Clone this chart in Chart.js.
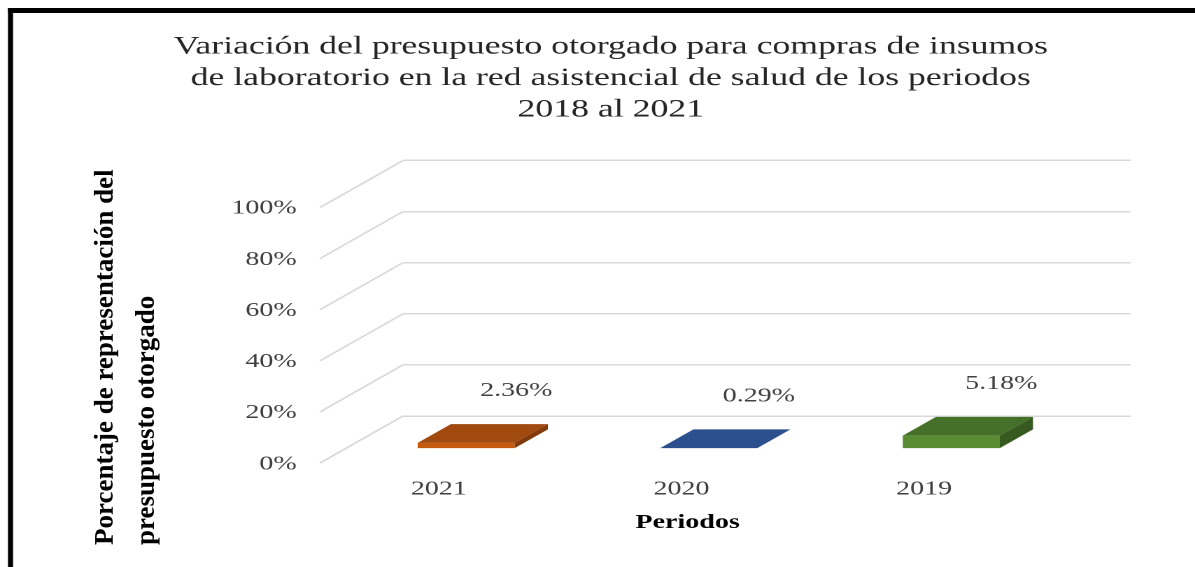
<!DOCTYPE html>
<html lang="es">
<head>
<meta charset="utf-8">
<title>Variación del presupuesto otorgado</title>
<script src="https://cdn.jsdelivr.net/npm/chart.js@4.4.1/dist/chart.umd.min.js"></script>
<style>
  html, body { margin: 0; padding: 0; background: #fff; overflow: hidden; }
  #chart { display: block; }
</style>
</head>
<body>
<!-- the reference image is stretched sideways, so the chart is laid out 854 wide and widened to 1195 by css -->
<canvas id="chart" width="854" height="567" style="width:1195px;height:567px"></canvas>
<script>
// SECTION: data
const periods = ['2021', '2020', '2019'];
const budgetShare = [2.36, 0.29, 5.18];
const percentTicks = [0, 20, 40, 60, 80, 100];
const titleLines = [
  'Variación del presupuesto otorgado para compras de insumos',
  'de laboratorio en la red asistencial de salud de los periodos',
  '2018 al 2021'
];
const yTitleLines = ['Porcentaje de representación del', 'presupuesto otorgado'];
const xTitle = 'Periodos';

// SECTION: look
const SERIF = '"Liberation Serif", "Times New Roman", serif';
const frontColors = ['#c55a11', '#2f5597', '#5a8c33'];
const topColors = ['#a14a0f', '#2c4f8e', '#45702a'];
const sideColors = ['#823a0b', '#1f3864', '#365a1f'];
const GRID = '#d9d9d9';
const DEPTH = { x: -59.3, y: 47 };      // back wall -> front plane
const BAR_FRONT = 0.7;
const BAR_BACK = 0.3;

const shift = (f) => ({ x: DEPTH.x * f, y: DEPTH.y * f });

const frame = {
  id: 'frame',
  beforeDraw(chart) {
    const { ctx } = chart;
    ctx.save();
    ctx.fillStyle = '#fff';
    ctx.fillRect(0, 0, chart.width, chart.height);
    ctx.fillStyle = '#000';
    ctx.fillRect(5.7, 8, 3.6, chart.height);
    ctx.fillRect(5.7, 8, chart.width, 5);
    ctx.restore();
  }
};

const depth3d = {
  id: 'depth3d',
  beforeDatasetsDraw(chart) {
    const { ctx, chartArea, scales } = chart;
    ctx.save();
    ctx.strokeStyle = GRID;
    ctx.lineWidth = 1.5;
    scales.y.ticks.forEach((tick) => {
      const y = scales.y.getPixelForValue(tick.value);
      ctx.beginPath();
      ctx.moveTo(chartArea.left, y);
      ctx.lineTo(chartArea.left + DEPTH.x, y + DEPTH.y);
      ctx.stroke();
    });
    ctx.restore();
  },
  afterDatasetsDraw(chart) {
    const { ctx } = chart;
    const f = shift(BAR_FRONT);
    const b = shift(BAR_BACK);
    const meta = chart.getDatasetMeta(0);
    ctx.save();
    meta.data.forEach((bar, i) => {
      const { x, y, base, width } = bar.getProps(['x', 'y', 'base', 'width'], true);
      const l = x - width / 2;
      const r = x + width / 2;

      const poly = (pts, color) => {
        ctx.beginPath();
        pts.forEach(([px, py], k) => (k ? ctx.lineTo(px, py) : ctx.moveTo(px, py)));
        ctx.closePath();
        ctx.fillStyle = color;
        ctx.fill();
      };

      poly([[l + f.x, y + f.y], [r + f.x, y + f.y], [r + f.x, base + f.y], [l + f.x, base + f.y]], frontColors[i]);
      poly([[l + f.x, y + f.y], [r + f.x, y + f.y], [r + b.x, y + b.y], [l + b.x, y + b.y]], topColors[i]);
      poly([[r + f.x, y + f.y], [r + b.x, y + b.y], [r + b.x, base + b.y], [r + f.x, base + f.y]], sideColors[i]);

      ctx.fillStyle = '#404040';
      ctx.font = `20px ${SERIF}`;
      ctx.textAlign = 'center';
      ctx.textBaseline = 'middle';
      ctx.fillText(budgetShare[i].toFixed(2) + '%', x - 5.7, y - 19);
    });
    ctx.restore();
  }
};

const axisTitles = {
  id: 'axisTitles',
  afterDraw(chart) {
    const { ctx } = chart;
    ctx.save();
    ctx.fillStyle = '#000';
    ctx.font = `bold 20px ${SERIF}`;
    ctx.textAlign = 'center';
    ctx.textBaseline = 'middle';
    ctx.fillText(xTitle, 491.4, 523);

    const cols = [75.7, 105];
    ctx.font = `bold 27px ${SERIF}`;
    ctx.textAlign = 'left';
    yTitleLines.forEach((line, i) => {
      ctx.save();
      ctx.translate(cols[i], 545);
      ctx.rotate(-Math.PI / 2);
      ctx.scale(1, 0.7);
      ctx.fillText(line, 0, 0);
      ctx.restore();
    });
    ctx.restore();
  }
};

new Chart(document.getElementById('chart').getContext('2d'), {
  type: 'bar',
  data: {
    labels: periods,
    datasets: [{
      data: budgetShare,
      backgroundColor: 'rgba(0, 0, 0, 0)',
      borderWidth: 0,
      barPercentage: 0.4,
      categoryPercentage: 1
    }]
  },
  options: {
    responsive: false,
    maintainAspectRatio: false,
    animation: false,
    devicePixelRatio: 2,
    layout: { padding: { left: 65, right: 46, top: 14, bottom: 0 } },
    scales: {
      x: {
        afterFit: (s) => { s.height = 151; },
        grid: { display: false, drawTicks: false },
        border: { display: false },
        ticks: {
          color: '#404040',
          font: { family: SERIF, size: 20 },
          padding: 61,
          labelOffset: -61
        }
      },
      y: {
        min: 0,
        max: 100,
        afterFit: (s) => { s.width = 223; },
        afterBuildTicks: (s) => { s.ticks = percentTicks.map((value) => ({ value })); },
        grid: { color: GRID, lineWidth: 1.5, drawTicks: false },
        border: { display: false },
        ticks: {
          color: '#404040',
          font: { family: SERIF, size: 20 },
          padding: 76,
          labelOffset: 48,
          callback: (v) => v + '%'
        }
      }
    },
    plugins: {
      legend: { display: false },
      tooltip: { enabled: false },
      title: {
        display: true,
        text: titleLines,
        color: '#262626',
        font: { family: SERIF, size: 25.5, weight: 'normal', lineHeight: 1.235 },
        padding: { top: 17, bottom: 35 }
      }
    }
  },
  plugins: [frame, depth3d, axisTitles]
});
</script>
</body>
</html>
